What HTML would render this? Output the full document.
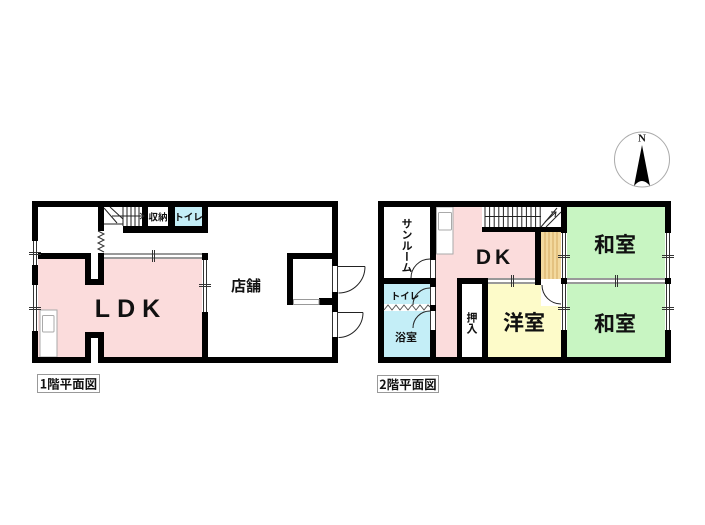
<!DOCTYPE html>
<html><head><meta charset="utf-8"><style>
html,body{margin:0;padding:0;background:#fff;}
svg{display:block;}
text{font-family:"Liberation Sans","Noto Sans CJK JP",sans-serif;fill:#111;}
.j{font-family:"Noto Sans CJK JP","Liberation Sans",sans-serif;font-weight:bold;}
</style></head><body>
<svg width="705" height="525" viewBox="0 0 705 525" xmlns="http://www.w3.org/2000/svg">
<rect width="705" height="525" fill="#fff"/>

<!-- ================= 1F ================= -->
<rect x="38" y="259" width="164" height="98" fill="#fbdcdc"/>
<rect x="40" y="310" width="17" height="47" fill="#fff" stroke="#aaa" stroke-width="1"/>
<rect x="42.5" y="315.5" width="11.5" height="16.5" fill="#fff" stroke="#aaa" stroke-width="1" rx="1"/>
<rect x="91" y="253" width="7" height="26" fill="#fff"/>
<rect x="91" y="338" width="7" height="25" fill="#fff"/>

<g fill="#000">
<rect x="32" y="201" width="306" height="6"/>
<rect x="32" y="357" width="59" height="6"/>
<rect x="98" y="357" width="240" height="6"/>
<rect x="32" y="201" width="6" height="40"/>
<rect x="32" y="265" width="6" height="20"/>
<rect x="32" y="331" width="6" height="32"/>
<rect x="332" y="201" width="6" height="65"/>
<rect x="332" y="292" width="6" height="20"/>
<rect x="332" y="337" width="6" height="26"/>
<rect x="32" y="253" width="59" height="6"/>
<rect x="85" y="253" width="6" height="32"/>
<rect x="98" y="207" width="6" height="24"/>
<rect x="98" y="253" width="6" height="32"/>
<rect x="85" y="279" width="19" height="6"/>
<rect x="85" y="332" width="6" height="31"/>
<rect x="98" y="332" width="6" height="31"/>
<rect x="85" y="332" width="19" height="6"/>
<rect x="202" y="253" width="6" height="7"/>
<rect x="202" y="312" width="6" height="51"/>
<rect x="123" y="226" width="85" height="7"/>
<rect x="142" y="201" width="66" height="32"/>
<rect x="287" y="253" width="51" height="6"/>
<rect x="287" y="253" width="6" height="52"/>
<rect x="319" y="298" width="19" height="7"/>
</g>
<rect x="148" y="207" width="20" height="19" fill="#fff"/>
<rect x="175" y="207" width="27" height="19" fill="#c4eef7"/>
<text x="158" y="220.5" font-size="9.5" class="j" text-anchor="middle">収納</text>
<text x="188.5" y="220.5" font-size="9.5" class="j" text-anchor="middle">トイレ</text>
<rect x="293.5" y="299.5" width="25.5" height="5" fill="#fff" stroke="#999" stroke-width="1"/>

<g stroke="#333" stroke-width="1" fill="#fff">
<rect x="32" y="241" width="6" height="24" stroke="none"/>
<line x1="33.5" y1="241" x2="33.5" y2="265"/><line x1="36.5" y1="241" x2="36.5" y2="265"/>
<line x1="29" y1="252.5" x2="41" y2="252.5"/><line x1="29" y1="254.5" x2="41" y2="254.5"/>
<rect x="32" y="285" width="6" height="46" stroke="none"/>
<line x1="33.5" y1="285" x2="33.5" y2="331"/><line x1="36.5" y1="285" x2="36.5" y2="331"/>
<line x1="29" y1="307.5" x2="41" y2="307.5"/><line x1="29" y1="309.5" x2="41" y2="309.5"/>
<rect x="104" y="253" width="98" height="6" stroke="none"/>
<line x1="104" y1="254" x2="202" y2="254"/><line x1="104" y1="258" x2="202" y2="258"/>
<line x1="152.5" y1="250" x2="152.5" y2="262"/><line x1="154.5" y1="250" x2="154.5" y2="262"/>
<rect x="202" y="253" width="6" height="6" fill="#000" stroke="none"/>
<rect x="202" y="260" width="6" height="52" stroke="none"/>
<line x1="203.5" y1="260" x2="203.5" y2="312"/><line x1="206.5" y1="260" x2="206.5" y2="312"/>
<line x1="199" y1="284.5" x2="211" y2="284.5"/><line x1="199" y1="286.5" x2="211" y2="286.5"/>
<rect x="332" y="266" width="6" height="26" stroke="none"/>
<line x1="332.5" y1="266" x2="332.5" y2="292"/><line x1="337.5" y1="266" x2="337.5" y2="292"/>
<rect x="332" y="312" width="6" height="25" stroke="none"/>
<line x1="332.5" y1="312" x2="332.5" y2="337"/><line x1="337.5" y1="312" x2="337.5" y2="337"/>
</g>
<g fill="none" stroke="#222" stroke-width="1">
<line x1="338" y1="266.5" x2="365" y2="266.5"/>
<path d="M365,266.5 A26.5,26.5 0 0,1 338.5,293"/>
<line x1="338" y1="312.5" x2="363" y2="312.5"/>
<path d="M363,312.5 A25,25 0 0,1 338.5,337.5"/>
<polyline points="98,231 104,234 98,237 104,240 98,243 104,246 98,249 104,252" stroke="#333"/>
<line x1="123" y1="207" x2="123" y2="226"/>
<line x1="127" y1="207" x2="127" y2="226"/>
<line x1="131" y1="207" x2="131" y2="226"/>
<line x1="135" y1="207" x2="135" y2="226"/>
<line x1="139" y1="207" x2="139" y2="226"/>
<line x1="104" y1="208" x2="117" y2="223"/>
<line x1="110" y1="207" x2="123" y2="219"/>
<line x1="104" y1="224" x2="123" y2="224"/>
<line x1="112" y1="216" x2="144" y2="216"/>
<polyline points="140,213 144,216 140,219"/>
</g>

<text x="246" y="291" font-size="15" class="j" text-anchor="middle">店舗</text>
<text x="131" y="317" font-size="25" font-weight="bold" text-anchor="middle" letter-spacing="7" style="font-family:'Liberation Sans',sans-serif">LDK</text>

<rect x="37.5" y="374.5" width="62" height="18" fill="#fff" stroke="#999" stroke-width="1"/>
<text x="68.5" y="388.5" font-size="12.5" class="j" text-anchor="middle">1階平面図</text>

<!-- ================= 2F ================= -->
<rect x="436" y="207" width="99" height="71" fill="#fbdcdc"/>
<rect x="436" y="278" width="21" height="79" fill="#fbdcdc"/>
<rect x="384" y="284" width="46" height="73" fill="#c4eef7"/>
<rect x="488" y="284" width="73" height="73" fill="#fdfbc9"/>
<rect x="541" y="284" width="20" height="22" fill="#fff"/>
<rect x="567" y="207" width="98" height="150" fill="#c8f5c2"/>
<rect x="541" y="232" width="20" height="47" fill="#f3d99e"/>
<g stroke="#d4ac62" stroke-width="1">
<line x1="545" y1="232" x2="545" y2="279"/><line x1="549" y1="232" x2="549" y2="279"/>
<line x1="553" y1="232" x2="553" y2="279"/><line x1="557" y1="232" x2="557" y2="279"/>
</g>
<rect x="436.5" y="207" width="16.5" height="47" fill="#fff" stroke="#aaa" stroke-width="1"/>
<rect x="438.5" y="212.5" width="13" height="17.5" fill="#fff" stroke="#aaa" stroke-width="1" rx="1"/>
<rect x="482" y="207" width="80" height="20" fill="#fff"/>

<g fill="#000">
<rect x="378" y="201" width="293" height="6"/>
<rect x="378" y="357" width="293" height="6"/>
<rect x="378" y="201" width="6" height="162"/>
<rect x="665" y="201" width="6" height="32"/>
<rect x="665" y="278" width="6" height="6"/>
<rect x="665" y="330" width="6" height="33"/>
<rect x="430" y="201" width="6" height="59"/>
<rect x="378" y="278" width="58" height="6"/>
<rect x="430" y="284" width="6" height="3"/>
<rect x="430" y="305" width="6" height="6"/>
<rect x="430" y="330" width="6" height="33"/>
<rect x="482" y="227" width="85" height="5"/>
<rect x="535" y="232" width="6" height="53"/>
<rect x="561" y="201" width="6" height="32"/>
<rect x="561" y="278" width="6" height="6"/>
<rect x="561" y="330" width="6" height="33"/>
<rect x="457" y="278" width="31" height="85"/>
</g>
<rect x="462" y="284" width="20" height="73" fill="#fff"/>

<rect x="384" y="304" width="46" height="7" fill="#fff"/>
<polyline points="384,310 388,305 392,310 396,305 400,310 404,305 408,310 412,305 416,310 420,305 424,310 428,305 430,307" fill="none" stroke="#555" stroke-width="1"/>

<g stroke="#333" stroke-width="1" fill="#fff">
<rect x="430" y="260" width="6" height="18" stroke="none"/>
<line x1="430.5" y1="260" x2="430.5" y2="278"/><line x1="435.5" y1="260" x2="435.5" y2="278"/>
<rect x="430" y="287" width="6" height="18" stroke="none"/>
<line x1="430.5" y1="287" x2="430.5" y2="305"/><line x1="435.5" y1="287" x2="435.5" y2="305"/>
<rect x="430" y="311" width="6" height="19" stroke="none"/>
<line x1="430.5" y1="311" x2="430.5" y2="330"/><line x1="435.5" y1="311" x2="435.5" y2="330"/>
<rect x="665" y="233" width="6" height="45" stroke="none"/>
<line x1="666.5" y1="233" x2="666.5" y2="278"/><line x1="669.5" y1="233" x2="669.5" y2="278"/>
<line x1="662" y1="255.5" x2="674" y2="255.5"/><line x1="662" y1="257.5" x2="674" y2="257.5"/>
<rect x="665" y="284" width="6" height="46" stroke="none"/>
<line x1="666.5" y1="284" x2="666.5" y2="330"/><line x1="669.5" y1="284" x2="669.5" y2="330"/>
<line x1="662" y1="307.5" x2="674" y2="307.5"/><line x1="662" y1="309.5" x2="674" y2="309.5"/>
<rect x="561" y="233" width="6" height="45" stroke="none"/>
<line x1="562.5" y1="233" x2="562.5" y2="278"/><line x1="565.5" y1="233" x2="565.5" y2="278"/>
<line x1="558" y1="255.5" x2="570" y2="255.5"/><line x1="558" y1="257.5" x2="570" y2="257.5"/>
<rect x="561" y="284" width="6" height="46" stroke="none"/>
<line x1="562.5" y1="284" x2="562.5" y2="330"/><line x1="565.5" y1="284" x2="565.5" y2="330"/>
<line x1="558" y1="307.5" x2="570" y2="307.5"/><line x1="558" y1="309.5" x2="570" y2="309.5"/>
<rect x="567" y="278" width="98" height="6" stroke="none"/>
<line x1="567" y1="279" x2="665" y2="279"/><line x1="567" y1="283" x2="665" y2="283"/>
<line x1="615.5" y1="275" x2="615.5" y2="287"/><line x1="617.5" y1="275" x2="617.5" y2="287"/>
<rect x="488" y="278" width="47" height="6" stroke="none"/>
<line x1="488" y1="279" x2="535" y2="279"/><line x1="488" y1="283" x2="535" y2="283"/>
<line x1="511.5" y1="275" x2="511.5" y2="287"/><line x1="513.5" y1="275" x2="513.5" y2="287"/>
</g>

<g fill="none" stroke="#222" stroke-width="1">
<path d="M411,278 A19,19 0 0,1 430,259"/>
<path d="M430,288 A17,17 0 0,0 413,305"/>
<path d="M430,311 A17,17 0 0,0 413,328"/>
<path d="M542,285 A19,19 0 0,0 561,304"/>
<line x1="485" y1="207" x2="485" y2="227"/>
<line x1="489.6" y1="207" x2="489.6" y2="227"/>
<line x1="494.2" y1="207" x2="494.2" y2="227"/>
<line x1="498.8" y1="207" x2="498.8" y2="227"/>
<line x1="503.4" y1="207" x2="503.4" y2="227"/>
<line x1="508" y1="207" x2="508" y2="227"/>
<line x1="512.6" y1="207" x2="512.6" y2="227"/>
<line x1="517.2" y1="207" x2="517.2" y2="227"/>
<line x1="521.8" y1="207" x2="521.8" y2="227"/>
<line x1="526.4" y1="207" x2="526.4" y2="227"/>
<line x1="531" y1="207" x2="531" y2="227"/>
<line x1="535.6" y1="207" x2="535.6" y2="227"/>
<line x1="540.2" y1="207" x2="540.2" y2="227"/>
<line x1="485" y1="216.5" x2="541" y2="216.5"/>
<line x1="541" y1="227" x2="557" y2="208"/>
<line x1="546" y1="227" x2="561" y2="212"/>
<line x1="545" y1="222" x2="556" y2="212"/>
<polyline points="551,212 556,212 555,217"/>
</g>

<text x="407" y="218" font-size="11" class="j" style="writing-mode:vertical-rl">サンルーム</text>
<text x="405" y="299.5" font-size="9.5" class="j" text-anchor="middle">トイレ</text>
<text x="406" y="341" font-size="11" class="j" text-anchor="middle">浴室</text>
<text x="472" y="312" font-size="11" class="j" style="writing-mode:vertical-rl">押入</text>
<text x="495" y="264" font-size="21" font-weight="bold" text-anchor="middle" letter-spacing="4" style="font-family:'Liberation Sans',sans-serif">DK</text>
<text x="524" y="330" font-size="21" class="j" text-anchor="middle">洋室</text>
<text x="615" y="252" font-size="21" class="j" text-anchor="middle">和室</text>
<text x="615" y="331" font-size="21" class="j" text-anchor="middle">和室</text>

<rect x="377.5" y="375.5" width="61" height="17" fill="#fff" stroke="#999" stroke-width="1"/>
<text x="408" y="389" font-size="12.5" class="j" text-anchor="middle">2階平面図</text>

<circle cx="642" cy="159.5" r="27.5" fill="#fff" stroke="#aaa" stroke-width="1"/>
<text x="642" y="141.5" font-size="11" font-weight="bold" text-anchor="middle" style="font-family:'Liberation Serif',serif">N</text>
<path d="M642,145 L650,186 Q642,176 634,186 Z" fill="#000"/>
</svg>
</body></html>
